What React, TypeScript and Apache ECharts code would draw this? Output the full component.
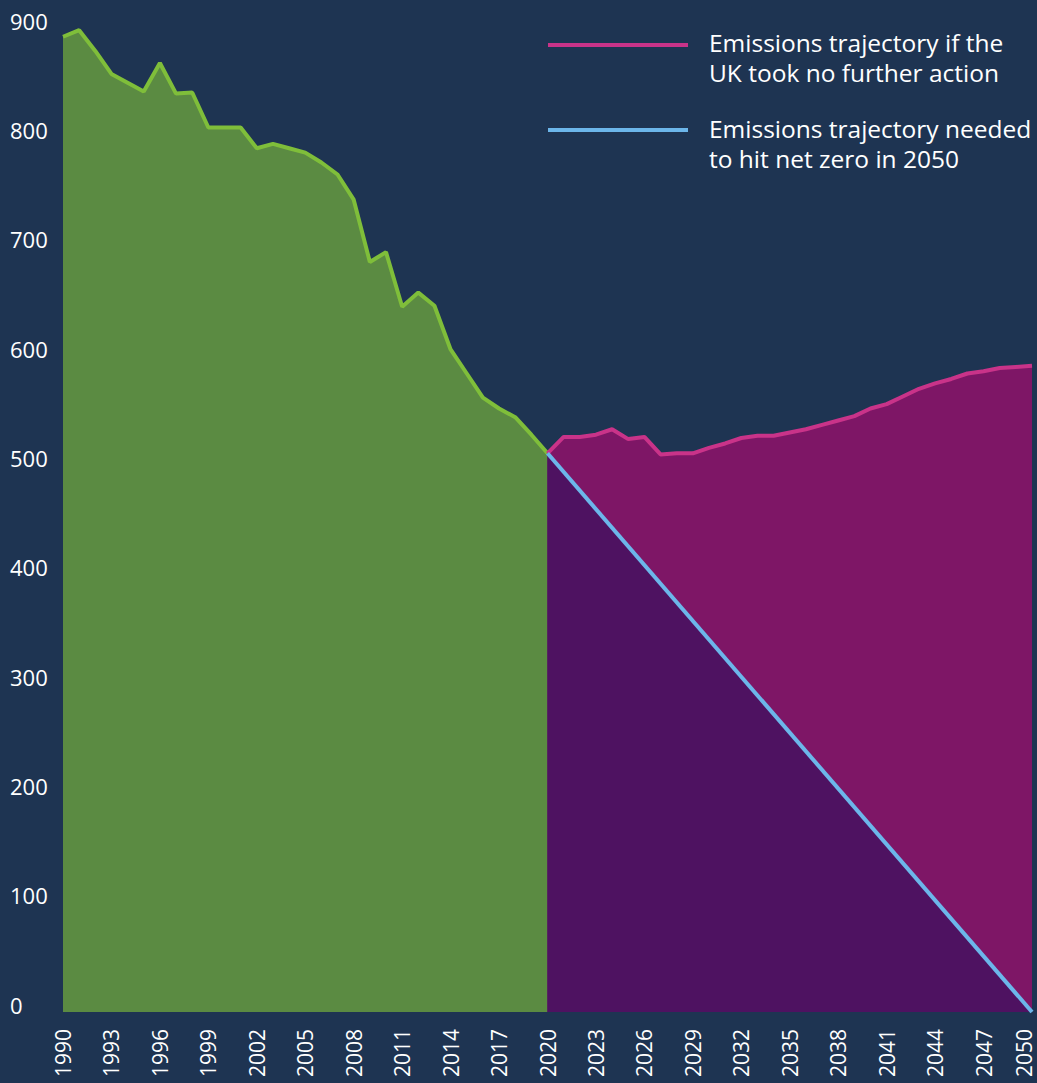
import React, { useEffect, useRef } from "react";
import * as echarts from "echarts";

const years: string[] = [];
for (let y = 1990; y <= 2050; y++) years.push(String(y));

const shownYearLabels = [
  "1990", "1993", "1996", "1999", "2002", "2005", "2008", "2011", "2014", "2017",
  "2020", "2023", "2026", "2029", "2032", "2035", "2038", "2041", "2044", "2047", "2050",
];

const historicYears = [
  "1990", "1991", "1992", "1993", "1994", "1995", "1996", "1997", "1998", "1999",
  "2000", "2001", "2002", "2003", "2004", "2005", "2006", "2007", "2008", "2009",
  "2010", "2011", "2012", "2013", "2014", "2015", "2016", "2017", "2018", "2019", "2020",
];
const historicValues = [
  892, 898, 879, 858, 850, 842, 868, 840, 841, 809,
  809, 809, 790, 794, 790, 786, 777, 766, 743, 686,
  695, 645, 658, 646, 606, 584, 562, 552, 544, 528, 511,
];

const noActionYears = [
  "2020", "2021", "2022", "2023", "2024", "2025", "2026", "2027", "2028", "2029",
  "2030", "2031", "2032", "2033", "2034", "2035", "2036", "2037", "2038", "2039",
  "2040", "2041", "2042", "2043", "2044", "2045", "2046", "2047", "2048", "2049", "2050",
];
const noActionValues = [
  511, 526, 526, 528, 533, 524, 526, 510, 511, 511,
  516, 520, 525, 527, 527, 530, 533, 537, 541, 545,
  552, 556, 563, 570, 575, 579, 584, 586, 589, 590, 591,
];

const netZeroYears = ["2020", "2050"];
const netZeroValues = [511, 0];

const yTicks = { min: 0, max: 900, interval: 100 };

const legendLines = [
  ["Emissions trajectory if the", "UK took no further action"],
  ["Emissions trajectory needed", "to hit net zero in 2050"],
];

const BG = "#1e3452";
const GREEN_FILL = "#5b8b42";
const GREEN_LINE = "#7fbe3a";
const MAGENTA_FILL = "#7e1666";
const MAGENTA_LINE = "#c93389";
const PURPLE_FILL = "#4e1261";
const BLUE_LINE = "#6cb6ea";
const FONT = "Open Sans";

const toPairs = (ys: string[], vs: number[]) =>
  ys.map((y, i) => [years.indexOf(y), vs[i]]);

const legendText = (text: string, y: number) => ({
  type: "text",
  x: 709,
  y,
  style: {
    text,
    fill: "#ffffff",
    font: `24.5px "${FONT}"`,
    verticalAlign: "middle",
    align: "left",
  },
});

export default function App() {
  const ref = useRef<HTMLDivElement>(null);

  useEffect(() => {
    if (!ref.current) return;
    const chart = echarts.init(ref.current, undefined, { renderer: "svg" });
    chart.setOption({
      animation: false,
      backgroundColor: BG,
      textStyle: { fontFamily: FONT },
      grid: { left: 63, right: 5, top: 28, bottom: 71, outerBoundsMode: "none" },
      xAxis: {
        type: "category",
        data: years,
        boundaryGap: false,
        axisLine: { show: false },
        axisTick: { show: false },
        splitLine: { show: false },
        axisLabel: {
          rotate: 90,
          margin: 17,
          color: "#ffffff",
          fontSize: 21,
          fontFamily: FONT,
          interval: (_i: number, v: string) => shownYearLabels.includes(v),
          formatter: (v: string) => (v === "2050" ? `{last|${v}}` : v),
          rich: {
            last: {
              color: "#ffffff",
              fontSize: 21,
              fontFamily: FONT,
              padding: [0, 0, 16, 0],
            },
          },
        },
      },
      yAxis: {
        type: "value",
        min: yTicks.min,
        max: yTicks.max,
        interval: yTicks.interval,
        axisLine: { show: false },
        axisTick: { show: false },
        splitLine: { show: false },
        axisLabel: {
          color: "#ffffff",
          fontSize: 22,
          fontFamily: FONT,
          align: "left",
          verticalAlign: "bottom",
          lineHeight: 15,
          margin: 53,
        },
      },
      series: [
        {
          type: "line",
          data: toPairs(historicYears, historicValues),
          symbol: "none",
          lineStyle: { color: GREEN_LINE, width: 4 },
          areaStyle: { color: GREEN_FILL, opacity: 1 },
          z: 2,
        },
        {
          type: "line",
          data: toPairs(noActionYears, noActionValues),
          symbol: "none",
          lineStyle: { color: MAGENTA_LINE, width: 4 },
          areaStyle: { color: MAGENTA_FILL, opacity: 1 },
          z: 3,
        },
        {
          type: "line",
          data: toPairs(netZeroYears, netZeroValues),
          symbol: "none",
          lineStyle: { color: BLUE_LINE, width: 4 },
          areaStyle: { color: PURPLE_FILL, opacity: 1 },
          z: 4,
        },
      ],
      graphic: [
        {
          type: "line",
          shape: { x1: 548, y1: 45, x2: 688, y2: 45 },
          style: { stroke: MAGENTA_LINE, lineWidth: 4 },
        },
        legendText(legendLines[0][0], 42),
        legendText(legendLines[0][1], 72),
        {
          type: "line",
          shape: { x1: 548, y1: 130, x2: 688, y2: 130 },
          style: { stroke: BLUE_LINE, lineWidth: 4 },
        },
        legendText(legendLines[1][0], 128),
        legendText(legendLines[1][1], 158),
      ],
    });
    return () => chart.dispose();
  }, []);

  return (
    <div
      ref={ref}
      style={{ position: "fixed", left: 0, top: 0, width: 1037, height: 1083, background: BG }}
    />
  );
}
